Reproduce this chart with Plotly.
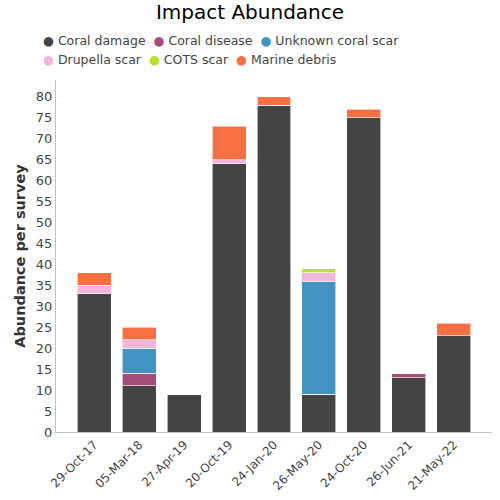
import plotly.graph_objects as go

dates = ["29-Oct-17", "05-Mar-18", "27-Apr-19", "20-Oct-19", "24-Jan-20",
         "26-May-20", "24-Oct-20", "26-Jun-21", "21-May-22"]
coral_damage = [33, 11, 9, 64, 78, 9, 75, 13, 23]
coral_disease = [0, 3, 0, 0, 0, 0, 0, 1, 0]
unknown_scar = [0, 6, 0, 0, 0, 27, 0, 0, 0]
drupella_scar = [2, 2, 0, 1, 0, 2, 0, 0, 0]
cots_scar = [0, 0, 0, 0, 0, 1, 0, 0, 0]
marine_debris = [3, 3, 0, 8, 2, 0, 2, 0, 3]

series = [
    ("Coral damage", coral_damage, "#444444", 0),
    ("Coral disease", coral_disease, "#a64d79", 0),
    ("Unknown coral scar", unknown_scar, "#4393c3", 0),
    ("Drupella scar", drupella_scar, "#f1b6da", 1),
    ("COTS scar", cots_scar, "#b8e02c", 1),
    ("Marine debris", marine_debris, "#f77043", 1),
]

fig = go.Figure()
for name, vals, color, row in series:
    fig.add_trace(go.Bar(
        x=dates, y=vals, name=name, showlegend=False,
        marker=dict(color=color, line=dict(color="rgba(255,255,255,0.6)", width=1)),
    ))

# legend drawn as text rows (coloured bullets + labels)
rows = {0: [], 1: []}
for name, vals, color, row in series:
    rows[row].append(f'<span style="color:{color}">●</span> {name}')
legend_y = {0: 40, 1: 60}  # pixel centre from top
for row, items in rows.items():
    fig.add_annotation(
        text="&nbsp;&nbsp;".join(items), xref="paper", yref="paper",
        x=(41 - 56) / 436, xanchor="left",
        y=1 + (80 - legend_y[row]) / 352, yanchor="middle",
        showarrow=False, font=dict(size=12.5, color="#444444"), align="left",
    )

font = "DejaVu Sans, Verdana, sans-serif"
fig.update_layout(
    width=500, height=500,
    barmode="stack", bargap=0.245,
    plot_bgcolor="white", paper_bgcolor="white",
    font=dict(family=font, color="#444444", size=12),
    showlegend=False,
    title=dict(text="Impact Abundance", x=0.5, xanchor="center", y=0.99, yanchor="top",
               font=dict(size=20, color="#000000", family=font)),
    margin=dict(l=56, r=8, t=80, b=68),
    xaxis=dict(tickangle=-45, showline=True, linecolor="#c0c0c0", linewidth=1,
               range=[-0.85, 8.85],
               ticks="", tickfont=dict(size=12, color="#444444")),
    yaxis=dict(range=[0, 84], dtick=5, showgrid=False, zeroline=False,
               showline=True, linecolor="#c0c0c0", linewidth=1, ticks="",
               tickfont=dict(size=13, color="#444444"),
               title=dict(text="<b>Abundance per survey</b>", font=dict(size=14.5, color="#333333"), standoff=6)),
)
fig.write_html("out.html", config={"displayModeBar": False},
               post_script="document.body.style.margin='0';")
